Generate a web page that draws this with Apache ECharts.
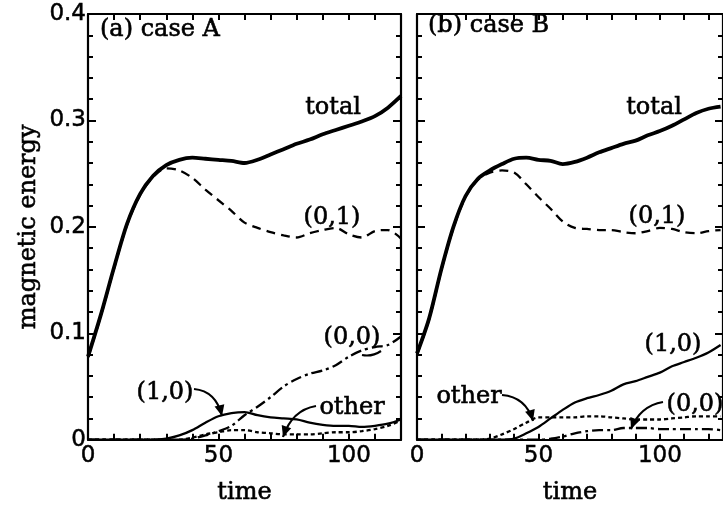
<!DOCTYPE html>
<html>
<head>
<meta charset="utf-8">
<script src="https://cdn.jsdelivr.net/npm/echarts@6/dist/echarts.min.js"></script>
<style>
  html, body { margin: 0; padding: 0; background: #fff; }
  #chart { width: 723px; height: 510px; }
</style>
</head>
<body>
<div id="chart"></div>
<script>
// time samples (read every 5 time units)
const timeA = [0, 5, 10, 15, 20, 25, 30, 35, 40, 45, 50, 55, 60, 65, 70, 75, 80, 85, 90, 95, 100, 105, 110, 115, 120];
const timeB = [0, 5, 10, 15, 20, 25, 30, 35, 40, 45, 50, 55, 60, 65, 70, 75, 80, 85, 90, 95, 100, 105, 110, 115, 120, 125];

// case A
const totalA = [0.078, 0.118, 0.162, 0.203, 0.231, 0.248, 0.258, 0.263, 0.265, 0.264, 0.263, 0.262, 0.260, 0.263, 0.268, 0.273, 0.278, 0.282, 0.287, 0.291, 0.295, 0.299, 0.304, 0.312, 0.323];
const mode01A = [0.077, 0.117, 0.161, 0.202, 0.230, 0.247, 0.255, 0.253, 0.246, 0.235, 0.225, 0.215, 0.204, 0.199, 0.195, 0.192, 0.190, 0.194, 0.197, 0.199, 0.193, 0.190, 0.196, 0.197, 0.189];
const mode10A = [0, 0, 0, 0, 0, 0, 0.001, 0.004, 0.009, 0.016, 0.022, 0.025, 0.026, 0.023, 0.021, 0.020, 0.019, 0.016, 0.014, 0.013, 0.013, 0.012, 0.013, 0.015, 0.019];
const mode00A = [0, 0, 0, 0, 0, 0, 0, 0, 0.001, 0.004, 0.008, 0.013, 0.023, 0.031, 0.040, 0.050, 0.057, 0.062, 0.065, 0.070, 0.078, 0.084, 0.087, 0.089, 0.097];
const otherA = [0, 0, 0, 0, 0, 0, 0, 0, 0.002, 0.005, 0.007, 0.009, 0.009, 0.007, 0.006, 0.005, 0.005, 0.005, 0.006, 0.007, 0.007, 0.008, 0.010, 0.013, 0.018];

// case B
const totalB = [0.081, 0.114, 0.160, 0.200, 0.229, 0.245, 0.253, 0.259, 0.264, 0.265, 0.263, 0.262, 0.259, 0.261, 0.265, 0.270, 0.274, 0.278, 0.281, 0.286, 0.290, 0.295, 0.301, 0.307, 0.311, 0.313];
const mode01B = [0.080, 0.113, 0.159, 0.199, 0.228, 0.244, 0.251, 0.253, 0.251, 0.240, 0.228, 0.217, 0.205, 0.199, 0.198, 0.197, 0.197, 0.195, 0.194, 0.196, 0.199, 0.198, 0.195, 0.194, 0.196, 0.197];
const mode10B = [0, 0, 0, 0, 0, 0, 0, 0, 0.001, 0.006, 0.012, 0.020, 0.028, 0.035, 0.039, 0.042, 0.046, 0.052, 0.055, 0.059, 0.063, 0.069, 0.073, 0.077, 0.082, 0.089];
const mode00B = [0, 0, 0, 0, 0, 0, 0, 0, 0, 0, 0, 0.001, 0.003, 0.006, 0.008, 0.009, 0.009, 0.011, 0.011, 0.011, 0.010, 0.010, 0.010, 0.010, 0.010, 0.009];
const otherB = [0, 0, 0, 0, 0, 0, 0.001, 0.005, 0.010, 0.016, 0.021, 0.021, 0.021, 0.021, 0.022, 0.022, 0.021, 0.020, 0.019, 0.019, 0.019, 0.020, 0.021, 0.022, 0.022, 0.022];

const xTickLabels = [0, 50, 100];
const yTickLabels = [0, 0.1, 0.2, 0.3, 0.4];

const SERIF = '"DejaVu Serif", serif';
const SANS = '"DejaVu Sans", sans-serif';

function pairs(t, v) {
  return t.map((x, i) => [x, v[i]]);
}

function xAxes(grid, max, withName) {
  const common = {
    gridIndex: grid,
    type: "value",
    min: 0,
    max: max,
    interval: 10,
    splitLine: { show: false },
    axisLine: { onZero: false, lineStyle: { color: "#000", width: 2.2 } },
    axisTick: { inside: true, length: 6, lineStyle: { color: "#000", width: 2 } },
  };
  return [
    Object.assign({}, common, {
      position: "bottom",
      name: withName ? "time" : "",
      nameLocation: "middle",
      nameGap: 41,
      nameTextStyle: { fontFamily: SERIF, fontSize: 24, color: "#000", textBorderColor: "#000", textBorderWidth: 0.6 },
      axisLabel: {
        margin: 5,
        color: "#000",
        fontFamily: SANS,
        fontSize: 23,
        textBorderColor: "#000",
        textBorderWidth: 0.5,
        showMaxLabel: false,
        formatter: (v) => (xTickLabels.indexOf(v) >= 0 ? String(v) : ""),
      },
    }),
    Object.assign({}, common, { position: "top", axisLabel: { show: false } }),
  ];
}

function yAxes(grid, withLabels) {
  const common = {
    gridIndex: grid,
    type: "value",
    min: 0,
    max: 0.4,
    interval: 0.1,
    splitLine: { show: false },
    axisLine: { onZero: false, lineStyle: { color: "#000", width: 2.2 } },
    axisTick: { inside: true, length: 8, lineStyle: { color: "#000", width: 2 } },
    minorTick: { show: true, splitNumber: 5, length: 5, lineStyle: { color: "#000", width: 2 } },
  };
  return [
    Object.assign({}, common, {
      position: "left",
      name: withLabels ? "magnetic energy" : "",
      nameLocation: "middle",
      nameGap: 47,
      nameTextStyle: { fontFamily: SERIF, fontSize: 24, color: "#000", textBorderColor: "#000", textBorderWidth: 0.6 },
      axisLabel: {
        show: withLabels,
        margin: 2,
        padding: [10, 0, 0, 0],
        color: "#000",
        fontFamily: SANS,
        fontSize: 23,
        textBorderColor: "#000",
        textBorderWidth: 0.5,
        formatter: (v) => {
          const r = Math.round(v * 10) / 10;
          return yTickLabels.indexOf(r) >= 0 ? String(r) : "";
        },
      },
    }),
    Object.assign({}, common, { position: "right", axisLabel: { show: false } }),
  ];
}

function line(name, xi, yi, t, v, width, type, z) {
  return {
    name: name,
    type: "line",
    xAxisIndex: xi,
    yAxisIndex: yi,
    data: pairs(t, v),
    showSymbol: false,
    smooth: 0.3,
    z: z,
    lineStyle: { color: "#000", width: width, type: type },
    animation: false,
  };
}

function label(text, x, y, align) {
  return {
    type: "text",
    x: x,
    y: y,
    z: 100,
    style: {
      text: text,
      font: "24px " + SERIF,
      fill: "#000",
      stroke: "#000",
      lineWidth: 0.6,
      align: align || "center",
      verticalAlign: "middle",
    },
  };
}

// curved arrow with a filled head at (x2, y2)
function arrow(x1, y1, cx, cy, x2, y2, head) {
  const items = [{
    type: "bezierCurve",
    z: 100,
    shape: { x1: x1, y1: y1, cpx1: cx, cpy1: cy, x2: x2, y2: y2 },
    style: { stroke: "#000", lineWidth: 2.2, fill: null },
  }];
  if (head !== false) {
    const dx = x2 - cx, dy = y2 - cy;
    const len = Math.sqrt(dx * dx + dy * dy);
    const ux = dx / len, uy = dy / len;
    const bx = x2 - ux * 11, by = y2 - uy * 11;
    items.push({
      type: "polygon",
      z: 100,
      shape: { points: [[x2, y2], [bx - uy * 5, by + ux * 5], [bx + uy * 5, by - ux * 5]] },
      style: { fill: "#000" },
    });
  }
  return items;
}

const DASH = [9, 6];
const DOT = [4, 3];
const DASHDOT = [11, 4, 3, 4];

const option = {
  backgroundColor: "#fff",
  animation: false,
  grid: [
    { left: 88, top: 14, width: 313, height: 430 },
    { left: 417, top: 14, width: 307, height: 430 },
  ],
  xAxis: xAxes(0, 120, true).concat(xAxes(1, 126, true)),
  yAxis: yAxes(0, true).concat(yAxes(1, false)),
  series: [
    line("other", 0, 0, timeA, otherA, 2.3, DOT, 2),
    line("(0,0)", 0, 0, timeA, mode00A, 2.3, DASHDOT, 3),
    line("(1,0)", 0, 0, timeA, mode10A, 2.3, "solid", 4),
    line("(0,1)", 0, 0, timeA, mode01A, 2.3, DASH, 5),
    line("total", 0, 0, timeA, totalA, 3.8, "solid", 6),
    line("other", 2, 2, timeB, otherB, 2.3, DOT, 2),
    line("(0,0)", 2, 2, timeB, mode00B, 2.3, DASHDOT, 3),
    line("(1,0)", 2, 2, timeB, mode10B, 2.3, "solid", 4),
    line("(0,1)", 2, 2, timeB, mode01B, 2.3, DASH, 5),
    line("total", 2, 2, timeB, totalB, 3.8, "solid", 6),
  ],
  graphic: [
    label("(a) case A", 100, 30, "left"),
    label("total", 333, 108),
    label("(0,1)", 332, 218),
    label("(0,0)", 352, 338),
    label("(1,0)", 165, 393),
    label("other", 352, 408),
    label("(b) case B", 428, 26, "left"),
    label("total", 654, 108),
    label("(0,1)", 657, 217),
    label("(1,0)", 673, 345),
    label("other", 469, 397),
    label("(0,0)", 695, 405),
  ]
    .concat(arrow(194, 389, 216, 391, 222, 416))
    .concat(arrow(316, 406, 292, 410, 283, 437))
    .concat(arrow(362, 355, 372, 357, 381, 351, false))
    .concat(arrow(502, 395, 526, 397, 533, 421))
    .concat(arrow(663, 402, 640, 406, 631, 429)),
};

const chart = echarts.init(document.getElementById("chart"), null, { renderer: "canvas" });
chart.setOption(option);
</script>
</body>
</html>
